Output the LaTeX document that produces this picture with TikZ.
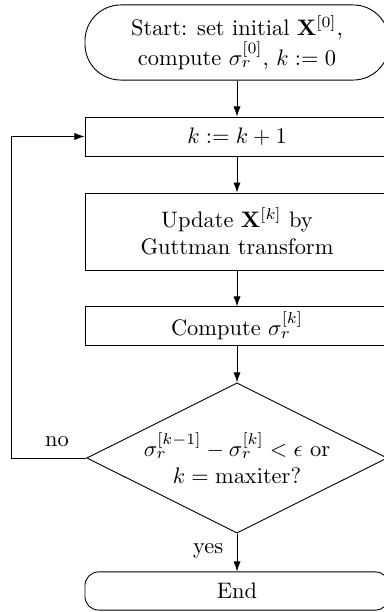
\documentclass[tikz,border=0pt]{standalone}
\usetikzlibrary{shapes.geometric,arrows.meta}
\begin{document}
\begin{tikzpicture}[x=0.446pt,y=-0.446pt,
  box/.style={draw, rectangle, minimum width=135.6pt, align=center, inner sep=0pt},
  term/.style={box},
  decision/.style={draw, diamond, aspect=2, inner sep=0pt, minimum width=134pt,
    minimum height=67pt, align=center},
  flow/.style={-{Latex[length=4.5pt,width=3.2pt]}},
  tag/.style={inner sep=1pt}
]
\useasboundingbox (0,0) rectangle (383,612);

\node[term, rounded corners=16pt, minimum height=33.5pt] (start) at (237,42.5)
  {Start: set initial $\mathbf{X}^{[0]}$,\\ compute $\sigma_r^{[0]}$, $k := 0$};
\node[box, minimum height=17.4pt] (inc) at (237,136.5) {$k := k+1$};
\node[box, minimum height=34.3pt] (upd) at (237,231.5)
  {Update $\mathbf{X}^{[k]}$ by\\ Guttman transform};
\node[box, minimum height=17pt] (comp) at (237,326) {Compute $\sigma_r^{[k]}$};
\node[decision] (dec) at (237,458)
  {$\sigma_r^{[k-1]}-\sigma_r^{[k]}<\epsilon$ or\\ $k=\mathrm{maxiter}$?};
\node[term, rounded corners=6pt, minimum height=17pt] (end) at (237,591) {End};

\coordinate (loop) at (11,458);

\draw[flow] (start) -- (inc);
\draw[flow] (inc) -- (upd);
\draw[flow] (upd) -- (comp);
\draw[flow] (comp) -- (dec);
\draw[flow] (dec) -- node[tag, left=5pt, pos=0.45] {yes} (end);
\draw[flow] (dec.west) -- node[tag, above=4pt, pos=0.39] {no} (loop) |- (inc.west);
\end{tikzpicture}
\end{document}
